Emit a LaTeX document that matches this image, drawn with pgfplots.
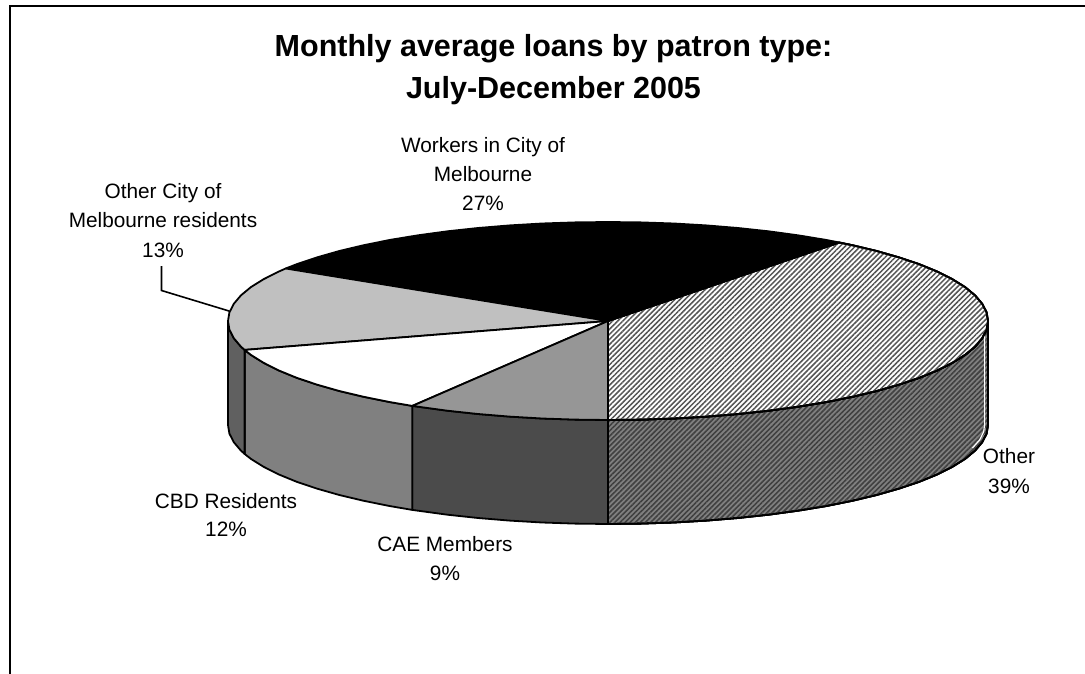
\documentclass[border=0pt]{standalone}
\usepackage{pgfplots}
\pgfplotsset{compat=1.18}
\usepackage{fontspec}
\setmainfont{Liberation Sans}
\usetikzlibrary{patterns.meta}
\definecolor{sideOther}{HTML}{808080}
\definecolor{stripeTop}{HTML}{555555}
\definecolor{stripeSide}{HTML}{404040}
\definecolor{sideCAE}{HTML}{4B4B4B}
\definecolor{topCAE}{HTML}{969696}
\definecolor{sideCBD}{HTML}{808080}
\definecolor{sideCity}{HTML}{606060}
\definecolor{topCity}{HTML}{C0C0C0}
\newcommand{\lab}{\fontsize{20.8pt}{24pt}\selectfont}
\newcommand{\ttl}{\fontsize{30.5pt}{36pt}\selectfont\bfseries}
\pgfplotsset{
  slice/.style={line width=1.8pt, draw=black, line join=round, mark=none},
}
\begin{document}
\begin{tikzpicture}
\useasboundingbox (0,0) rectangle (1085pt,674pt);
\begin{axis}[
  at={(0,0)}, anchor=south west,
  width=1085pt, height=674pt, scale only axis,
  xmin=0, xmax=1085, ymin=0, ymax=674, y dir=reverse,
  hide axis, clip=true,
]
% chart frame: open on the right and at the bottom
\addplot[black, line width=2.2pt, mark=none] coordinates {(10,674) (10,6) (1085,6)};

% side walls of the pie
\addplot[slice, preaction={fill=sideOther},
  postaction={pattern={Lines[angle=45,distance=3.6pt,line width=1.6pt]}, pattern color=stripeSide}]
 coordinates {(608,420) (641.1,419.6) (674,418.5) (706.4,416.6) (738,414) (768.6,410.7) (798,406.7) (826,402.1) (852.3,396.8) (876.7,391) (899.1,384.6) (919.3,377.8) (937.1,370.5) (952.4,362.8) (965.1,354.9) (975.1,346.6) (982.2,338.2) (986.6,329.6) (988,321)
 (988,425) (986.6,433.6) (982.2,442.2) (975.1,450.6) (965.1,458.9) (952.4,466.8) (937.1,474.5) (919.3,481.8) (899.1,488.6) (876.7,495) (852.3,500.8) (826,506.1) (798,510.7) (768.6,514.7) (738,518) (706.4,520.6) (674,522.5) (641.1,523.6) (608,524) (608,420)};
\addplot[white, line width=1.1pt, mark=none] coordinates {(984.6,335) (984.6,425) (983.6,432) (979.5,440) (972.5,448)};
\addplot[slice, fill=sideCAE]
 coordinates {(412.3,405.9) (418,406.7) (447.4,410.7) (478,414) (509.6,416.6) (542,418.5) (574.9,419.6) (608,420)
 (608,524) (574.9,523.6) (542,522.5) (509.6,520.6) (478,518) (447.4,514.7) (418,510.7) (412.3,509.9) (412.3,405.9)};
\addplot[slice, fill=sideCBD]
 coordinates {(244.6,349.9) (250.9,354.9) (263.6,362.8) (278.9,370.5) (296.7,377.8) (316.9,384.6) (339.3,391) (363.7,396.8) (390,402.1) (412.3,405.9)
 (412.3,509.9) (390,506.1) (363.7,500.8) (339.3,495) (316.9,488.6) (296.7,481.8) (278.9,474.5) (263.6,466.8) (250.9,458.9) (244.6,453.9) (244.6,349.9)};
\addplot[slice, fill=sideCity]
 coordinates {(228,321) (229.4,329.6) (233.8,338.2) (240.9,346.6) (244.6,349.9)
 (244.6,453.9) (240.9,450.6) (233.8,442.2) (229.4,433.6) (228,425) (228,321)};

% top face: Other 39%
\addplot[slice, preaction={fill=white},
  postaction={pattern={Lines[angle=45,distance=3.6pt,line width=1.5pt]}, pattern color=stripeTop}]
 coordinates {(608,321) (608,420) (641.1,419.6) (674,418.5) (706.4,416.6) (738,414) (768.6,410.7) (798,406.7) (826,402.1) (852.3,396.8) (876.7,391) (899.1,384.6) (919.3,377.8) (937.1,370.5) (952.4,362.8) (965.1,354.9) (975.1,346.6) (982.2,338.2) (986.6,329.6) (988,321) (986.6,312.4) (982.2,303.8) (975.1,295.4) (965.1,287.1) (952.4,279.2) (937.1,271.5) (919.3,264.2) (899.1,257.4) (876.7,251) (852.3,245.2) (839.3,242.5) (608,321)};
% top face: Workers in City of Melbourne 27%
\addplot[slice, fill=black]
 coordinates {(608,321) (839.3,242.5) (826,239.9) (798,235.3) (768.6,231.3) (738,228) (706.4,225.4) (674,223.5) (641.1,222.4) (608,222) (574.9,222.4) (542,223.5) (509.6,225.4) (478,228) (447.4,231.3) (418,235.3) (390,239.9) (363.7,245.2) (339.3,251) (316.9,257.4) (296.7,264.2) (285.7,268.5) (608,321)};
% top face: Other City of Melbourne residents 13%
\addplot[slice, fill=topCity]
 coordinates {(608,321) (285.7,268.5) (278.9,271.5) (263.6,279.2) (250.9,287.1) (240.9,295.4) (233.8,303.8) (229.4,312.4) (228,321) (229.4,329.6) (233.8,338.2) (240.9,346.6) (244.6,349.9) (608,321)};
% top face: CBD Residents 12%
\addplot[slice, fill=white]
 coordinates {(608,321) (244.6,349.9) (250.9,354.9) (263.6,362.8) (278.9,370.5) (296.7,377.8) (316.9,384.6) (339.3,391) (363.7,396.8) (390,402.1) (412.3,405.9) (608,321)};
% top face: CAE Members 9%
\addplot[slice, fill=topCAE]
 coordinates {(608,321) (412.3,405.9) (418,406.7) (447.4,410.7) (478,414) (509.6,416.6) (542,418.5) (574.9,419.6) (608,420) (608,321)};

% leader line of the 13% label
\addplot[black, line width=1.6pt, mark=none, line join=miter] coordinates {(161.5,266) (161.5,290.5) (229,311)};

% title
\node[anchor=base] at (axis cs:553.5,57) {\ttl Monthly average loans by patron type:};
\node[anchor=base] at (axis cs:553.5,98.5) {\ttl July-December 2005};
% slice labels
\node[anchor=base] at (axis cs:483,153) {\lab Workers in City of};
\node[anchor=base] at (axis cs:483,182) {\lab Melbourne};
\node[anchor=base] at (axis cs:483,211) {\lab 27\%};
\node[anchor=base] at (axis cs:163,199) {\lab Other City of};
\node[anchor=base] at (axis cs:163,227) {\lab Melbourne residents};
\node[anchor=base] at (axis cs:163,257) {\lab 13\%};
\node[anchor=base] at (axis cs:1009,463) {\lab Other};
\node[anchor=base] at (axis cs:1009,493) {\lab 39\%};
\node[anchor=base] at (axis cs:226,508) {\lab CBD Residents};
\node[anchor=base] at (axis cs:226,536) {\lab 12\%};
\node[anchor=base] at (axis cs:445,551) {\lab CAE Members};
\node[anchor=base] at (axis cs:445,580) {\lab 9\%};
\end{axis}
\end{tikzpicture}
\end{document}
